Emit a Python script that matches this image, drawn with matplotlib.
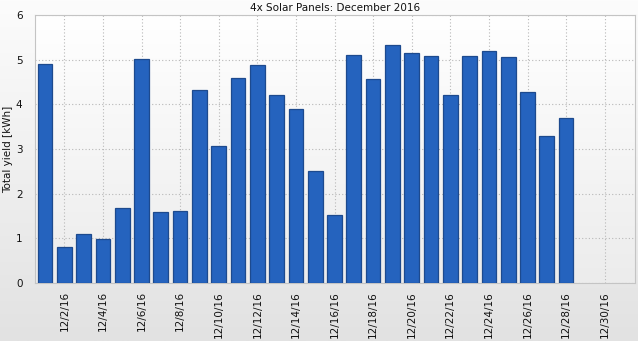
import numpy as np
import matplotlib
matplotlib.use("Agg")
import matplotlib.pyplot as plt

# daily yield, Dec 1..28 2016
days = list(range(1, 29))
yield_kwh = [4.90, 0.80, 1.09, 0.98, 1.69, 5.01, 1.58, 1.61, 4.32, 3.06,
             4.60, 4.87, 4.20, 3.90, 2.50, 1.52, 5.10, 4.56, 5.33, 5.15,
             5.08, 4.20, 5.08, 5.19, 5.05, 4.28, 3.29, 3.69]
tick_days = list(range(2, 31, 2))
tick_labels = [f"12/{d}/16" for d in tick_days]

plt.rcParams.update({"font.family": "DejaVu Sans", "font.size": 7.5})


def vgrad(top, bottom, n=256):
    t = np.linspace(0, 1, n).reshape(-1, 1, 1)
    top = np.array(top) / 255.0
    bottom = np.array(bottom) / 255.0
    return top + (bottom - top) * t


fig = plt.figure(figsize=(6.38, 3.41), dpi=100)
# figure background gradient
bg = fig.add_axes([0, 0, 1, 1], zorder=-10)
bg.imshow(vgrad((252, 252, 252), (226, 226, 226)), aspect="auto",
          extent=[0, 1, 0, 1])
bg.axis("off")

ax = fig.add_axes([35/638, 1-283/341, 600/638, 268/341])
ax.imshow(vgrad((255, 255, 255), (236, 236, 236)), aspect="auto",
          extent=[0.48, 31.57, 0, 6], zorder=0)
ax.bar(days, yield_kwh, width=0.76, color="#2563be", edgecolor="#1d4a8e",
       linewidth=0.9, zorder=3)
ax.set_xlim(0.48, 31.57)
ax.set_ylim(0, 6)
ax.set_xticks(tick_days)
ax.set_xticklabels(tick_labels, rotation=90)
ax.set_yticks(range(0, 7))
ax.tick_params(length=0, pad=9, colors="#111")
ax.tick_params(axis="x", pad=6)
ax.grid(color="#b8b8b8", linestyle=(0, (1, 2)), linewidth=0.8, zorder=1)
for s in ax.spines.values():
    s.set_color("#c4c4c4")
ax.set_ylabel("Total yield [kWh]", labelpad=2, color="#111")
ax.set_title("4x Solar Panels: December 2016", fontsize=7.5, pad=3, color="#111")

fig.savefig("out.png", dpi=100)
